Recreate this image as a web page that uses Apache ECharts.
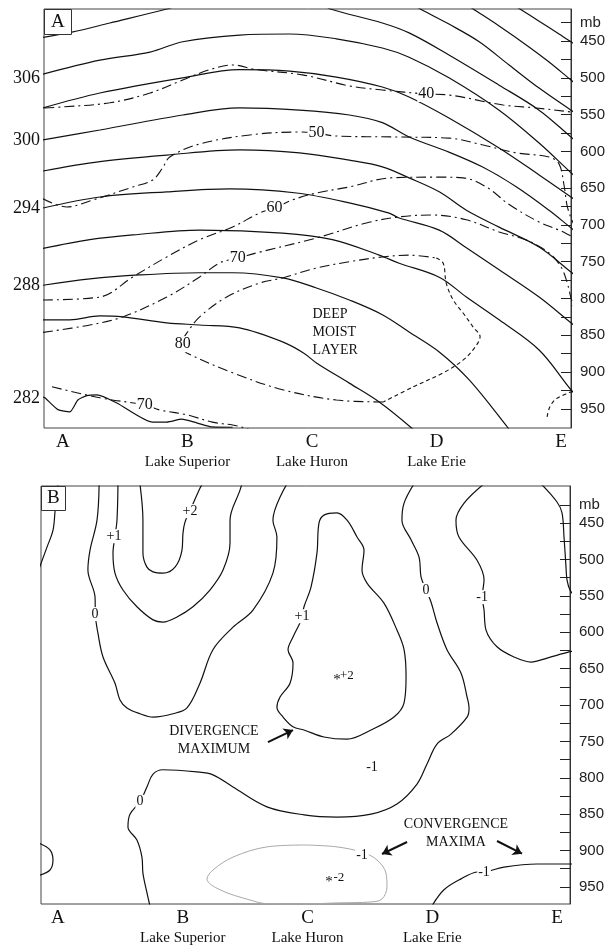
<!DOCTYPE html>
<html>
<head>
<meta charset="utf-8">
<script src="https://cdn.jsdelivr.net/npm/echarts@6/dist/echarts.min.js"></script>
<style>
  html, body {margin: 0; padding: 0; background: #fff;}
  #chart {width: 608px; height: 947px;}
</style>
</head>
<body>
<div id="chart"></div>
<script>
// stations along the cross section
const stationNames = ['A', 'B', 'C', 'D', 'E'];
const lakeNames = ['', 'Lake Superior', 'Lake Huron', 'Lake Erie', ''];
const stationPos = [0, 1, 2, 3, 4];

// pressure axis (mb)
const pressureLabelLevels = [425, 450, 500, 550, 600, 650, 700, 750, 800, 850, 900, 950];
const pressureTickLevels = [425, 450, 475, 500, 525, 550, 575, 600, 625, 650, 675, 700, 725, 750, 775, 800, 825, 850, 875, 900, 925, 950];

// potential temperature labels on the left of panel A
const thetaLabels = [306, 300, 294, 288, 282];
const thetaLabelP = [500, 585, 677, 782, 935];

// panel A: isentropes (K), [station, mb]
const theta282 = [[-0.16, 934], [-0.144, 935], [-0.04, 951], [0.056, 954], [0.12, 938], [0.192, 932], [0.273, 931], [0.433, 942], [0.72, 968], [0.834, 968], [0.954, 964], [1.074, 969], [1.2, 974.6], [1.363, 975]];
const theta285 = [[-0.16, 829], [0.056, 829], [0.297, 823.7], [0.48, 825], [0.834, 833], [1.098, 836], [1.419, 840], [1.764, 859], [1.932, 874], [2.036, 887.6], [2.3, 915], [2.54, 940.6], [2.8, 976], [2.846, 985]];
const theta288 = [[-0.16, 782], [0.216, 773.4], [0.617, 768], [1.098, 765], [1.363, 765], [1.764, 772], [2.036, 785.7], [2.3, 802], [2.565, 822], [2.78, 845.5], [3.022, 872.6], [3.263, 910.7], [3.575, 976], [3.623, 987]];
const theta291 = [[-0.16, 732], [0.216, 720], [0.561, 713.6], [1.098, 707], [1.764, 711], [2.164, 720], [2.54, 741], [2.7, 752], [3.022, 771], [3.24, 798], [3.503, 829], [3.824, 870], [4.08, 924], [4.14, 934]];
const theta294 = [[-0.16, 677], [0.297, 662], [0.834, 655], [1.339, 651], [1.876, 656.6], [2.3, 670], [2.62, 684], [2.7, 690.5], [3.022, 707], [3.24, 731], [3.503, 761], [3.824, 798], [4.08, 833], [4.14, 841]];
const theta297 = [[-0.16, 626.7], [0.297, 614], [0.834, 605], [1.419, 598], [1.9, 602], [2.3, 612], [2.565, 621], [2.78, 636], [3.022, 655], [3.24, 680], [3.503, 703], [3.824, 730], [4.08, 764], [4.14, 772]];
const theta300 = [[-0.16, 584.5], [0.297, 571], [0.962, 550.6], [1.419, 541], [1.9, 544], [2.3, 550.6], [2.565, 561], [2.78, 580.5], [3.1, 601], [3.367, 621], [3.64, 648], [3.904, 680], [4.08, 704], [4.14, 712]];
const theta303 = [[-0.16, 541], [0.297, 520.7], [0.962, 500], [1.419, 489], [1.82, 491], [2.196, 499], [2.565, 512.5], [2.78, 526], [3.1, 554.6], [3.503, 595.4], [3.824, 632], [4.08, 662], [4.14, 670]];
const theta306 = [[-0.16, 495], [0.297, 476], [0.7, 465], [0.962, 451], [1.419, 442], [1.82, 440.5], [2.196, 447], [2.565, 459.5], [2.78, 472], [3.1, 500], [3.503, 544], [3.824, 588.6], [4.08, 629], [4.14, 637.5]];
const theta309West = [[-0.16, 445], [0.072, 438], [0.377, 425.5], [0.834, 406.5], [0.94, 401]];
const theta309East = [[2.1, 401], [2.148, 406.5], [2.565, 425.5], [2.78, 439], [3.1, 469], [3.503, 510], [3.824, 544], [4.08, 580.5], [4.14, 589]];
const theta312 = [[2.82, 401], [2.87, 406.5], [3.1, 427], [3.343, 451], [3.583, 482.6], [3.824, 514], [4.08, 544], [4.14, 550.6]];
const theta315 = [[3.246, 401], [3.295, 406.5], [3.503, 429.6], [3.743, 458], [3.904, 478.5], [4.08, 503], [4.14, 511]];
const theta318 = [[3.62, 401], [3.67, 406.5], [3.824, 423], [3.984, 440.5], [4.08, 451], [4.14, 458]];

// panel A: relative humidity (%)
const rh40 = [[-0.15, 541], [-0.008, 539.7], [0.377, 534], [0.7, 520.7], [0.962, 503], [1.178, 489], [1.363, 482.6], [1.555, 489], [1.924, 496], [2.3, 511], [2.565, 516.6], [2.918, 522], [3.078, 523], [3.535, 537], [3.8, 541], [4.08, 546.5], [4.14, 548]];
const rh50 = [[-0.16, 664.5], [0.032, 675.6], [0.216, 667.4], [0.561, 648.4], [0.72, 639], [0.8, 622.6], [0.858, 607.6], [1.098, 590], [1.5, 577.7], [1.9, 573.7], [2.036, 575], [2.18, 579], [2.7, 580.5], [3.1, 582], [3.367, 591], [3.64, 602], [3.904, 607.6], [3.984, 617], [4.024, 645.7], [4.048, 673], [4.08, 690.5], [4.11, 701]];
const rh60 = [[-0.16, 802], [0.297, 798], [0.561, 770.7], [0.834, 743.5], [1.098, 720], [1.363, 702.8], [1.579, 683.7], [1.7, 677], [1.844, 666], [2.036, 656.6], [2.3, 648.4], [2.63, 636], [2.998, 635], [3.214, 636], [3.4, 648.4], [3.59, 673], [3.824, 696], [3.984, 707], [4.08, 715], [4.14, 720]];
const rh70 = [[-0.16, 846], [0.216, 836], [0.48, 825], [0.834, 798], [1.098, 770.7], [1.258, 751.7], [1.403, 745], [1.555, 738], [2.036, 717.7], [2.437, 697.3], [2.7, 689], [2.966, 686.5], [3.24, 693], [3.503, 709.6], [3.72, 720.4], [3.904, 738], [4.0, 757], [4.048, 777.5], [4.08, 799], [4.11, 815.6]];
const rh70Low = [[-0.088, 920], [0.297, 935], [0.657, 944.7], [0.778, 951.5], [0.994, 958], [1.2, 968], [1.363, 972], [1.46, 976], [1.54, 981]];
const rh80Upper = [[0.962, 856], [0.994, 847], [1.098, 825], [1.315, 798], [1.579, 779], [1.764, 772], [2.036, 758.5], [2.3, 750], [2.565, 743.5], [2.78, 741], [2.998, 745]];
const rh80East = [[2.998, 745], [3.054, 752], [3.078, 779], [3.134, 802], [3.215, 820], [3.295, 839], [3.35, 852], [3.31, 866], [3.215, 883.5], [3.054, 901], [2.814, 920], [2.573, 940.6]];
const rh80Lower = [[2.573, 940.6], [2.196, 938], [1.764, 924], [1.363, 901], [0.994, 874], [0.962, 868]];
const rhCorner = [[3.888, 961], [3.91, 947.4], [3.96, 936.5], [4.04, 929.7], [4.08, 927], [4.14, 926]];

const rhLabels = [['40', 2.918, 522], ['50', 2.036, 575], ['60', 1.70, 677], ['70', 1.403, 745], ['80', 0.962, 862], ['70', 0.657, 944.7]];

// panel B: divergence (1e-5 s-1)
const divWestEdge = [[0.0, 395], [-0.024, 435], [-0.04, 460], [-0.088, 483], [-0.15, 512]];
const divZeroWest = [[0.33, 396], [0.313, 446], [0.257, 487], [0.24, 514.6], [0.297, 551.7], [0.3, 577], [0.32, 601], [0.361, 634], [0.457, 670], [0.497, 693], [0.553, 704], [0.657, 712], [0.762, 716.6], [0.922, 712], [1.034, 704], [1.138, 670], [1.242, 624], [1.403, 593], [1.563, 569.5], [1.723, 518.7], [1.755, 469], [1.723, 446], [1.836, 396]];
const divPlus1West = [[0.481, 396], [0.473, 446], [0.457, 468], [0.441, 491], [0.457, 518.7], [0.521, 542], [0.633, 565], [0.762, 583], [0.842, 586], [0.954, 579], [1.082, 565], [1.218, 542], [1.323, 514.6], [1.379, 477.5], [1.379, 446], [1.459, 404.7], [1.475, 396]];
const divPlus2West = [[0.657, 396], [0.681, 446], [0.681, 491], [0.713, 510.5], [0.762, 517], [0.842, 518.7], [0.938, 510.5], [0.994, 487], [1.002, 463.7], [1.018, 448.6], [1.058, 433], [1.138, 402], [1.16, 396]];
const divPlus1Loop = [[1.956, 579], [1.972, 565], [2.028, 538], [2.076, 491], [2.092, 450], [2.132, 439], [2.236, 436], [2.317, 446], [2.397, 469], [2.453, 487], [2.437, 514.6], [2.477, 532.4], [2.613, 560], [2.717, 597], [2.774, 624], [2.79, 661.6], [2.774, 697], [2.693, 716.6], [2.509, 734.4], [2.317, 747], [2.132, 744], [1.972, 734.4], [1.884, 730], [1.804, 716.6], [1.755, 703], [1.78, 689], [1.86, 670], [1.884, 642], [1.844, 624], [1.884, 606.6], [1.94, 587], [1.956, 579]];
const divZeroEast = [[2.854, 396], [2.774, 422.5], [2.757, 446], [2.83, 473], [2.894, 496.7], [2.91, 524], [2.95, 542], [2.99, 558.5], [3.038, 587], [3.118, 624], [3.23, 656], [3.279, 689], [3.295, 704], [3.279, 716.6], [3.15, 740], [3.038, 753.7], [2.958, 781], [2.878, 808.6], [2.717, 836], [2.509, 850], [2.236, 854], [1.972, 851], [1.675, 840], [1.403, 812.7], [1.242, 796], [1.114, 792], [0.842, 789], [0.762, 795], [0.713, 812.7], [0.657, 833], [0.577, 850], [0.561, 867.7], [0.633, 885.6], [0.673, 909], [0.681, 931], [0.713, 958], [0.737, 976]];
const divMinus1North = [[3.415, 396], [3.255, 422.5], [3.19, 446], [3.214, 469], [3.359, 501], [3.415, 528], [3.4, 551.7], [3.415, 569.5], [3.431, 597], [3.519, 620], [3.655, 634], [3.792, 641], [3.92, 635.5], [4.096, 627], [4.14, 626]];
const divNorthEast = [[3.872, 396], [4.0, 421], [4.04, 436], [4.056, 469], [4.072, 510.5], [4.08, 528], [4.104, 542], [4.14, 550]];
const divMinus1Low = [[1.972, 892.4], [1.675, 895], [1.403, 909], [1.242, 926.8], [1.194, 939], [1.299, 954], [1.539, 968], [1.675, 973], [1.972, 973.5], [2.236, 972], [2.509, 970.7], [2.597, 966.6], [2.637, 950], [2.629, 931], [2.557, 913], [2.45, 903], [2.236, 895], [1.972, 892.4]];
const divMinus1SE = [[2.998, 976], [3.094, 954], [3.23, 939], [3.359, 929.5], [3.431, 929], [3.575, 922.7], [3.84, 918.5], [4.096, 918.5], [4.14, 918.5]];
const divWestArc = [[-0.15, 890], [-0.064, 899], [-0.04, 913], [-0.064, 926.8], [-0.15, 934]];

const divLabels = [['+1', 0.449, 468], ['+2', 1.058, 433.5], ['0', 0.297, 575], ['+1', 1.956, 578], ['0', 2.95, 542], ['-1', 3.40, 551.7], ['0', 0.657, 833], ['-1', 2.517, 785], ['-1', 2.437, 906], ['-1', 3.415, 930]];
const divExtrema = [['+2', 2.236, 666], ['-2', 2.172, 944]];
const arrowsB = [[[1.683, 751], [1.884, 734.4]], [[2.798, 888.3], [2.597, 904.8]], [[3.519, 886.9], [3.719, 904.4]]];

const serif = '"Liberation Serif", "DejaVu Serif", serif';
const sans = '"Liberation Sans", Arial, sans-serif';
const ink = '#111';

function contour(data, yi, opts) {
  opts = opts || {};
  return {
    type: 'line',
    xAxisIndex: yi === 2 ? 1 : 0,
    yAxisIndex: yi,
    data: data,
    smooth: opts.smooth == null ? 0.35 : opts.smooth,
    symbol: 'none',
    silent: true,
    z: 2,
    lineStyle: {color: opts.color || ink, width: opts.width || 1.2, type: opts.type || 'solid'}
  };
}

function textLabel(size, extra) {
  return Object.assign({
    show: true, position: 'inside', formatter: '{b}', color: ink, opacity: 1,
    textBorderWidth: 0, textShadowBlur: 0,
    fontFamily: serif, fontSize: size
  }, extra || {});
}

function textMarks(items, yi, label) {
  return {
    type: 'scatter',
    xAxisIndex: yi === 2 ? 1 : 0,
    yAxisIndex: yi,
    symbolSize: 1,
    silent: true,
    z: 5,
    itemStyle: {color: '#fff', opacity: 1},
    data: items.map(d => ({name: d[0], value: [d[1], d[2]]})),
    label: label
  };
}

const dashDot = [10, 4, 2, 4];
const shortDash = [4, 3];

function xAxisFor(gi, min, max) {
  return {
    type: 'value', gridIndex: gi, min: min, max: max,
    axisLine: {show: false}, axisTick: {show: false}, splitLine: {show: false},
    axisLabel: {
      customValues: stationPos, margin: 4,
      formatter: v => {
        const i = stationPos.indexOf(Math.round(v));
        return lakeNames[i] ? '{l|' + stationNames[i] + '}\n{s|' + lakeNames[i] + '}' : '{l|' + stationNames[i] + '}';
      },
      rich: {
        l: {fontFamily: serif, fontSize: 19, lineHeight: 20, color: ink},
        s: {fontFamily: serif, fontSize: 15, lineHeight: 20, color: ink}
      }
    }
  };
}

function pressureAxis(gi, min, max) {
  return {
    type: 'value', gridIndex: gi, position: 'right', inverse: true, min: min, max: max,
    axisLine: {show: true, onZero: false, lineStyle: {color: '#333'}},
    splitLine: {show: false},
    axisTick: {show: true, inside: true, length: 10, customValues: pressureTickLevels, lineStyle: {color: '#222'}},
    axisLabel: {
      customValues: pressureLabelLevels, margin: 9, fontFamily: sans, fontSize: 15, color: '#222',
      formatter: v => v === 425 ? 'mb' : String(v)
    }
  };
}

const chart = echarts.init(document.getElementById('chart'), null, {renderer: 'canvas'});

chart.setOption({
  backgroundColor: '#fff',
  animation: false,
  title: [
    {text: 'A', left: 44, top: 9, padding: [4, 7, 3, 7], borderColor: '#333', borderWidth: 1, backgroundColor: '#fff',
      textStyle: {fontFamily: serif, fontSize: 19, fontWeight: 'normal', color: ink}, z: 10},
    {text: 'B', left: 41, top: 486, padding: [3, 6, 3, 6], borderColor: '#333', borderWidth: 1, backgroundColor: '#fff',
      textStyle: {fontFamily: serif, fontSize: 19, fontWeight: 'normal', color: ink}, z: 10}
  ],
  grid: [
    {left: 44, right: 36, top: 9, height: 419, show: true, borderColor: '#444', borderWidth: 1},
    {left: 41, right: 38, top: 486, height: 418, show: true, borderColor: '#444', borderWidth: 1}
  ],
  xAxis: [xAxisFor(0, -0.152, 4.08), xAxisFor(1, -0.136, 4.104)],
  yAxis: [
    pressureAxis(0, 406.5, 976),
    {
      type: 'value', gridIndex: 0, position: 'left', inverse: true, min: 406.5, max: 976,
      axisLine: {show: false, onZero: false}, axisTick: {show: false}, splitLine: {show: false},
      axisLabel: {
        customValues: thetaLabelP, margin: 4, fontFamily: serif, fontSize: 18, color: ink,
        formatter: v => String(thetaLabels[thetaLabelP.indexOf(Math.round(v))])
      }
    },
    pressureAxis(1, 399, 973.5)
  ],
  series: [
    // panel A isentropes
    contour(theta282, 0, {smooth: 0.2}),
    contour(theta285, 0), contour(theta288, 0), contour(theta291, 0), contour(theta294, 0),
    contour(theta297, 0), contour(theta300, 0), contour(theta303, 0), contour(theta306, 0),
    contour(theta309West, 0), contour(theta309East, 0), contour(theta312, 0), contour(theta315, 0), contour(theta318, 0),
    // panel A relative humidity
    contour(rh40, 0, {type: dashDot, width: 1.1}),
    contour(rh50, 0, {type: dashDot, width: 1.1}),
    contour(rh60, 0, {type: dashDot, width: 1.1}),
    contour(rh70, 0, {type: dashDot, width: 1.1}),
    contour(rh70Low, 0, {type: dashDot, width: 1.1}),
    contour(rh80Upper, 0, {type: dashDot, width: 1.1}),
    contour(rh80East, 0, {type: shortDash, width: 1.1}),
    contour(rh80Lower, 0, {type: dashDot, width: 1.1}),
    contour(rhCorner, 0, {type: shortDash, width: 1.1}),
    textMarks(rhLabels, 0, textLabel(16, {backgroundColor: '#fff', padding: [0, 1]})),
    textMarks([['DEEP\nMOIST\nLAYER', 2.004, 845.5]], 0, textLabel(14, {lineHeight: 18, align: 'left'})),
    // panel B divergence
    contour(divWestEdge, 2), contour(divZeroWest, 2), contour(divPlus1West, 2), contour(divPlus2West, 2),
    contour(divPlus1Loop, 2), contour(divZeroEast, 2), contour(divMinus1North, 2), contour(divNorthEast, 2),
    contour(divMinus1Low, 2, {color: '#a8a8a8', width: 1}),
    contour(divMinus1SE, 2), contour(divWestArc, 2),
    textMarks(divLabels, 2, textLabel(14, {backgroundColor: '#fff', padding: [0, 1]})),
    textMarks(divExtrema.map(d => ['*', d[1], d[2]]), 2, textLabel(15)),
    textMarks(divExtrema, 2, textLabel(13, {offset: [10, -5]})),
    textMarks([['DIVERGENCE\nMAXIMUM', 1.25, 748.8], ['CONVERGENCE\nMAXIMA', 3.19, 876]], 2,
      textLabel(14, {lineHeight: 18, align: 'center'})),
    {
      type: 'lines', coordinateSystem: 'cartesian2d', xAxisIndex: 1, yAxisIndex: 2, silent: true, z: 4,
      symbol: ['none', 'arrow'], symbolSize: 9,
      lineStyle: {color: ink, width: 2, opacity: 1},
      data: arrowsB.map(c => ({coords: c}))
    }
  ]
});
</script>
</body>
</html>
